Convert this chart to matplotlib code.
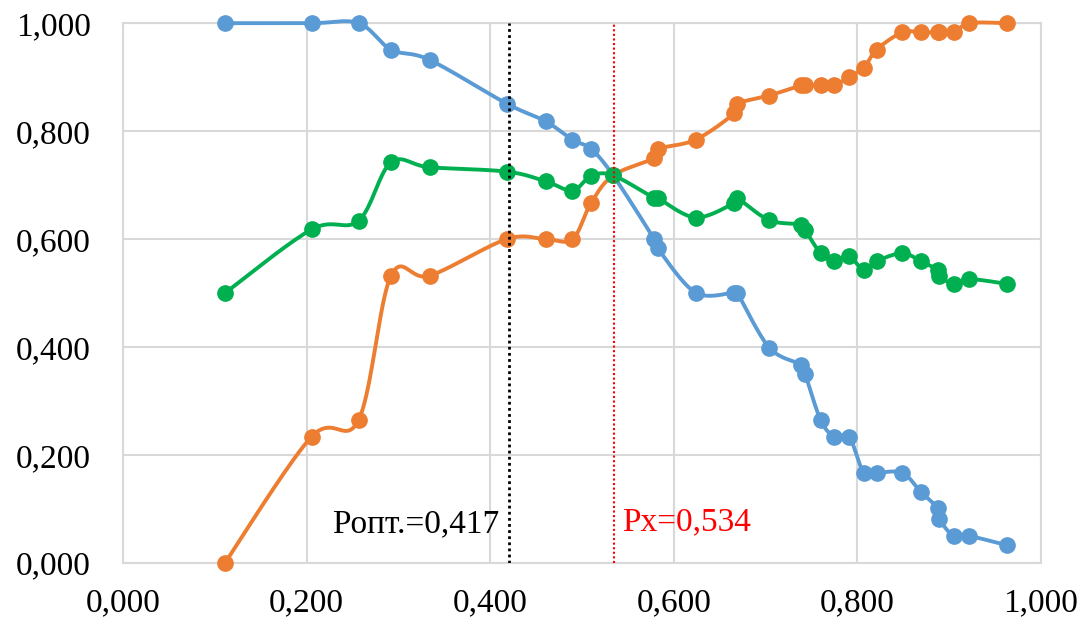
import numpy as np
import matplotlib.pyplot as plt
from matplotlib.ticker import FuncFormatter

# data
x = [0.111, 0.2055, 0.2567, 0.292, 0.334, 0.418, 0.4606, 0.4897, 0.5099, 0.534,
     0.5786, 0.5825, 0.6237, 0.666, 0.669, 0.704, 0.739, 0.743, 0.760, 0.775,
     0.791, 0.807, 0.821, 0.849, 0.869, 0.888, 0.889, 0.905, 0.922, 0.963]
blue = [1.0, 1.0, 1.0, 0.951, 0.932, 0.851, 0.818, 0.784, 0.767, 0.718,
        0.600, 0.583, 0.501, 0.501, 0.501, 0.399, 0.367, 0.351, 0.265, 0.234,
        0.234, 0.167, 0.167, 0.167, 0.132, 0.101, 0.082, 0.050, 0.050, 0.033]
orange = [0.0, 0.234, 0.265, 0.532, 0.532, 0.600, 0.600, 0.600, 0.667, 0.718,
          0.750, 0.767, 0.784, 0.833, 0.851, 0.866, 0.885, 0.885, 0.885, 0.885,
          0.901, 0.917, 0.951, 0.983, 0.983, 0.983, 0.983, 0.983, 1.0, 1.0]
green = [0.500, 0.618, 0.634, 0.742, 0.733, 0.725, 0.707, 0.690, 0.717, 0.718,
         0.676, 0.676, 0.640, 0.667, 0.676, 0.635, 0.627, 0.617, 0.574, 0.559,
         0.569, 0.542, 0.559, 0.574, 0.559, 0.543, 0.532, 0.517, 0.526, 0.517]
p_opt = 0.421
p_x = 0.535

plt.rcParams['font.family'] = ['Liberation Serif', 'DejaVu Serif']


def smooth(xs, ys, n=20):
    # Excel-like smoothed line (Catmull-Rom through the points)
    xs = np.asarray(xs, float)
    ys = np.asarray(ys, float)
    px = np.concatenate([[xs[0]], xs, [xs[-1]]])
    py = np.concatenate([[ys[0]], ys, [ys[-1]]])
    ox, oy = [], []
    t = np.linspace(0, 1, n)
    for i in range(1, len(px) - 2):
        p0, p1, p2, p3 = [np.array([px[j], py[j]]) for j in (i - 1, i, i + 1, i + 2)]
        c1 = p1 + (p2 - p0) / 6
        c2 = p2 - (p3 - p1) / 6
        b = ((1 - t) ** 3)[:, None] * p1 + (3 * (1 - t) ** 2 * t)[:, None] * c1 \
            + (3 * (1 - t) * t ** 2)[:, None] * c2 + (t ** 3)[:, None] * p2
        ox.extend(b[:, 0])
        oy.extend(b[:, 1])
    return ox, oy


fig = plt.figure(figsize=(10.9, 6.26), dpi=100)
ax = fig.add_axes([0.1128, 0.1006, 0.8422, 0.8624])

for ys, col in [(blue, '#5B9BD5'), (orange, '#ED7D31'), (green, '#00B050')]:
    sx, sy = smooth(x, ys)
    ax.plot(sx, sy, color=col, lw=2.8, zorder=3, clip_on=False)
    ax.plot(x, ys, 'o', color=col, ms=11, zorder=4, clip_on=False)

ax.plot([p_opt, p_opt], [0, 1], color='black', ls=(0, (1, 1.2)), lw=2, zorder=5)
ax.plot([p_x, p_x], [0, 1], color='red', ls=(0, (1, 1.2)), lw=1.5, zorder=5)
ax.text(p_opt - 0.011, 0.072, 'Pопт.=0,417', fontsize=24, ha='right', va='center', color='black')
ax.text(p_x + 0.009, 0.076, 'Px=0,534', fontsize=24, ha='left', va='center', color='red')

ax.set_xlim(0, 1)
ax.set_ylim(0, 1)
ax.set_xticks(np.arange(0, 1.01, 0.2))
ax.set_yticks(np.arange(0, 1.01, 0.2))
fmt = FuncFormatter(lambda v, p: f'{v:.3f}'.replace('.', ','))
ax.xaxis.set_major_formatter(fmt)
ax.yaxis.set_major_formatter(fmt)
ax.tick_params(labelsize=24, length=0)
ax.tick_params(axis='y', pad=23)
ax.tick_params(axis='x', pad=18)
ax.grid(True, color='#d9d9d9', lw=1.5)
for s in ax.spines.values():
    s.set_color('#d9d9d9')
    s.set_linewidth(1.5)
ax.set_axisbelow(True)

fig.savefig('out.png', dpi=100)
